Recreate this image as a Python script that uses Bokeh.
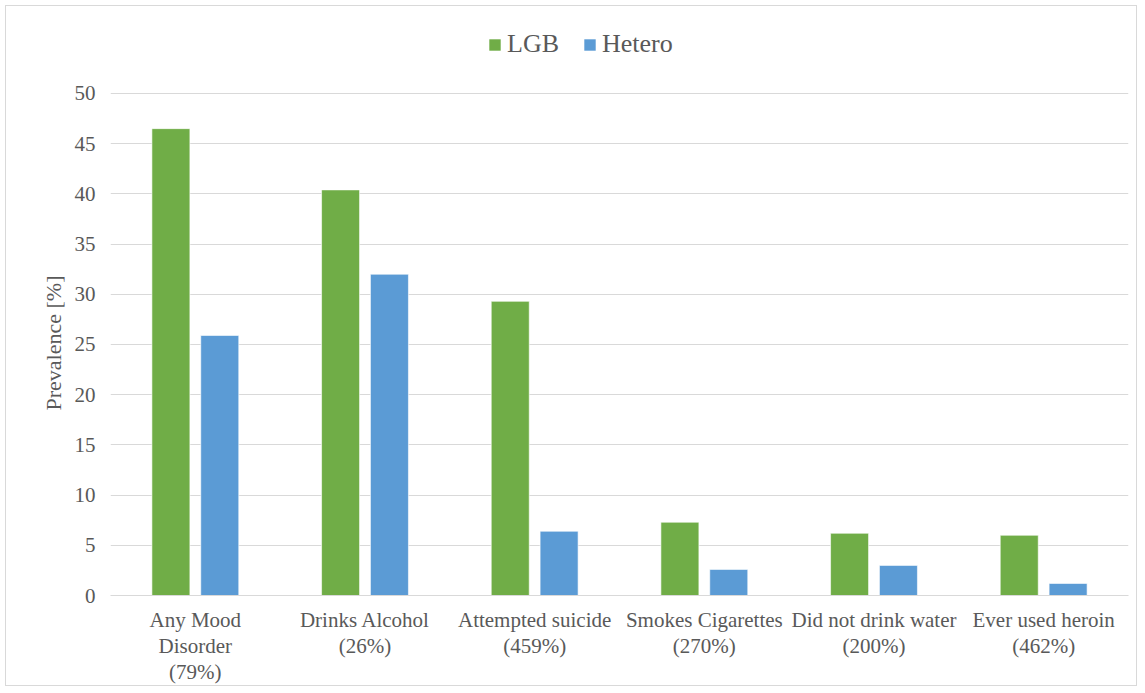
from bokeh.plotting import figure
from bokeh.models import ColumnDataSource, FactorRange, Legend, LegendItem, FixedTicker, Range1d, Title
from bokeh.transform import dodge
from bokeh.embed import file_html
from bokeh.resources import INLINE

categories = ["Any Mood\nDisorder\n(79%)", "Drinks Alcohol\n(26%)", "Attempted suicide\n(459%)",
              "Smokes Cigarettes\n(270%)", "Did not drink water\n(200%)", "Ever used heroin\n(462%)"]
lgb = [46.5, 40.4, 29.3, 7.3, 6.2, 6.0]
hetero = [25.9, 32.0, 6.4, 2.6, 3.0, 1.2]
y_ticks = [0, 5, 10, 15, 20, 25, 30, 35, 40, 45, 50]

FONT = "Liberation Serif"
TXT = "#595959"
GRID = "#d9d9d9"
GREEN = "#70AD47"
BLUE = "#5B9BD5"

src = ColumnDataSource(dict(cat=categories, lgb=lgb, hetero=hetero))

# extra headroom above 50 holds the legend inside the frame
p = figure(x_range=FactorRange(*categories, range_padding=0), y_range=Range1d(0, 57.27),
           width=1132, height=681, output_backend="svg", toolbar_location=None,
           min_border_left=104, min_border_right=10, min_border_top=14, min_border_bottom=92)
p.margin = (5, 0, 0, 5)
p.styles = {"border": "1px solid #d9d9d9"}
p.outline_line_color = None
p.background_fill_color = "white"
p.border_fill_color = "white"

r1 = p.vbar(x=dodge("cat", -0.144, range=p.x_range), top="lgb", width=0.224, source=src,
            fill_color=GREEN, line_color="white", line_alpha=0.6, line_width=1)
r2 = p.vbar(x=dodge("cat", 0.144, range=p.x_range), top="hetero", width=0.224, source=src,
            fill_color=BLUE, line_color="white", line_alpha=0.6, line_width=1)

p.yaxis.ticker = FixedTicker(ticks=y_ticks)
p.ygrid.ticker = FixedTicker(ticks=y_ticks)
p.ygrid.grid_line_color = GRID
p.ygrid.grid_line_width = 1
p.xgrid.grid_line_color = None

for ax in (p.xaxis, p.yaxis):
    ax.major_tick_out = 0
    ax.major_tick_in = 0
    ax.minor_tick_out = 0
    ax.minor_tick_in = 0
    ax.major_tick_line_color = None
    ax.minor_tick_line_color = None

p.yaxis.axis_line_color = None
p.yaxis.major_label_standoff = 15
p.yaxis.major_label_text_font = FONT
p.yaxis.major_label_text_font_size = "21px"
p.yaxis.major_label_text_color = TXT

ytitle = Title(text="Prevalence [%]", align="left", offset=185, standoff=11,
               text_font=FONT, text_font_size="22px", text_font_style="normal", text_color=TXT)
p.add_layout(ytitle, "left")

p.xaxis.axis_line_color = GRID
p.xaxis.major_label_standoff = 12
p.xaxis.major_label_text_font = FONT
p.xaxis.major_label_text_font_size = "21px"
p.xaxis.major_label_text_color = TXT
p.xaxis.major_label_text_line_height = 1.1

legend = Legend(items=[LegendItem(label="LGB", renderers=[r1]), LegendItem(label="Hetero", renderers=[r2])],
                orientation="horizontal", location=(377, 536))
legend.padding = 0
legend.margin = 0
legend.spacing = 23
legend.label_standoff = 5
legend.glyph_width = 15
legend.glyph_height = 15
legend.border_line_color = None
legend.background_fill_alpha = 0
legend.label_text_font = FONT
legend.label_text_font_size = "26px"
legend.label_text_color = TXT
p.add_layout(legend, "center")

open("out.html", "w").write(file_html(p, INLINE))
